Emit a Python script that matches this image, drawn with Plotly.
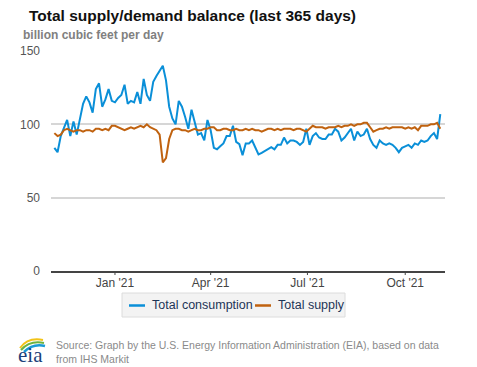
import pandas as pd
import plotly.graph_objects as go

start_date = "2020-11-05"
consumption = [84, 81, 92, 97, 103, 92, 102, 93, 103, 114,
               119, 115, 108, 124, 128, 112, 117, 124, 116, 115,
               118, 120, 127, 114, 116, 115, 122, 114, 131, 120,
               116, 129, 133, 137, 140, 130, 112, 104, 100, 116,
               112, 105, 97, 110, 102, 93, 94, 89, 103, 96,
               84, 83, 85, 87, 92, 92, 99, 88, 86.5, 79,
               87, 87, 89, 84, 79.5, 80.5, 82, 83, 84.5, 83,
               86, 86, 91, 87, 89, 89, 88, 86, 88, 97,
               86, 92, 94, 91, 90, 90, 93, 93, 97, 95,
               89, 91, 94, 97, 89, 95, 92, 93, 97, 90,
               86, 84, 89, 87, 86, 87, 86, 84, 81, 84,
               85, 86, 84, 87, 86, 89, 88, 89, 92, 94,
               90, 107]
supply = [94, 92, 93, 96, 97, 96, 95, 96, 96, 95,
          96, 96, 95, 97, 97, 96, 97, 96, 99, 99,
          98, 97, 96, 97, 98, 97, 98, 99, 98, 100,
          98, 97, 96, 93, 74, 77, 90, 96, 97, 97,
          96, 96, 95, 96, 97, 96, 96, 97, 97, 98,
          98, 96, 96, 97, 97, 96, 96, 97, 96, 96,
          97, 96, 97, 96, 96, 95, 96, 97, 97, 96,
          97, 96, 97, 97, 97, 96, 97, 97, 96, 95,
          97, 99, 98, 98, 98, 97, 98, 98, 98, 99,
          98, 99, 99, 100, 99, 100, 100, 101, 101, 98,
          95, 96, 97, 97, 98, 97, 98, 98, 98, 98,
          97, 98, 97, 98, 96, 99, 99, 99, 100, 100,
          101, 97]
series_names = ["Total consumption", "Total supply"]
series_colors = ["#0a8fd8", "#c0620f"]
tick_dates = ["2021-01-01", "2021-04-01", "2021-07-01", "2021-10-01"]
tick_labels = ["Jan '21", "Apr '21", "Jul '21", "Oct '21"]
y_ticks = [0, 50, 100, 150]

dates = pd.date_range(start_date, periods=len(consumption), freq="3D")

# ---- layout geometry (page pixels; the page body has an 8px margin) ----
OFF = 8
W, H = 477 - OFF, 367 - OFF
L, R, T, B = 51, 445, 51, 271          # plot area in page pixels
def px(x):
    return (x - L) / (R - L)
def py(y):
    return (B - y) / (B - T)

FONT = "Liberation Sans, Arial, sans-serif"

fig = go.Figure()
for name, vals, col in zip(series_names, [consumption, supply], series_colors):
    fig.add_trace(go.Scatter(x=dates, y=vals, mode="lines", name=name,
                             line=dict(color=col, width=2), showlegend=False))

fig.update_layout(
    width=W, height=H,
    margin=dict(l=L - OFF, r=W - (R - OFF), t=T - OFF, b=H - (B - OFF), pad=0),
    paper_bgcolor="white", plot_bgcolor="white",
    font=dict(family=FONT, size=12, color="#555"),
    xaxis=dict(range=["2020-11-01 20:00", "2021-11-07 10:00"],
               tickvals=tick_dates, ticktext=tick_labels,
               ticks="", showgrid=False, showline=True, linecolor="#444",
               linewidth=1.5, zeroline=False,
               tickfont=dict(size=12, color="#444")),
    yaxis=dict(range=[0, 150], tickvals=y_ticks, showgrid=True,
               gridcolor="#d6d6d6", gridwidth=1.5, zeroline=False,
               showline=False, ticks="", ticklabelstandoff=10,
               tickfont=dict(size=12, color="#555")),
)

ann = []
ann.append(dict(text="<b>Total supply/demand balance (last 365 days)</b>",
                x=px(27), y=py(16), xref="paper", yref="paper",
                xanchor="left", yanchor="middle", showarrow=False,
                font=dict(size=15.5, color="#111", family=FONT)))
ann.append(dict(text="<b>billion cubic feet per day</b>",
                x=px(21), y=py(35), xref="paper", yref="paper",
                xanchor="left", yanchor="middle", showarrow=False,
                font=dict(size=12, color="#808080", family=FONT)))
ann.append(dict(text="Source: Graph by the U.S. Energy Information Administration (EIA), based on data<br>from IHS Markit",
                x=px(54), y=py(337), xref="paper", yref="paper",
                xanchor="left", yanchor="top", align="left", showarrow=False,
                font=dict(size=10.5, color="#8a8a8a", family=FONT)))

shapes = []
# x tick marks below the axis line
for d in tick_dates:
    shapes.append(dict(type="line", xref="x", yref="paper", x0=d, x1=d,
                       y0=py(271), y1=py(275), line=dict(color="#444", width=1)))
# legend box
shapes.append(dict(type="rect", xref="paper", yref="paper",
                   x0=px(122), x1=px(345), y0=py(293), y1=py(317),
                   fillcolor="#f3f3f3", line=dict(color="#dcdcdc", width=1),
                   layer="below"))
legend_items = [(129, 145, 150), (255, 271, 276)]
for (lx0, lx1, tx), name, col in zip(legend_items, series_names, series_colors):
    shapes.append(dict(type="line", xref="paper", yref="paper",
                       x0=px(lx0), x1=px(lx1), y0=py(305.5), y1=py(305.5),
                       line=dict(color=col, width=2.5)))
    ann.append(dict(text=name, x=px(tx), y=py(305), xref="paper", yref="paper",
                    xanchor="left", yanchor="middle", showarrow=False,
                    font=dict(size=12.5, color="#1d3557", family=FONT)))

# eia logo
def qpath(p0, c, p1):
    return "M {},{} Q {},{} {},{}".format(px(p0[0]), py(p0[1]), px(c[0]), py(c[1]), px(p1[0]), py(p1[1]))
shapes.append(dict(type="path", xref="paper", yref="paper",
                   path=qpath((20, 348), (28, 337), (43, 340)),
                   line=dict(color="#f2c318", width=2)))
shapes.append(dict(type="path", xref="paper", yref="paper",
                   path=qpath((21, 350), (30, 340), (44, 343)),
                   line=dict(color="#6cb33f", width=2)))
shapes.append(dict(type="path", xref="paper", yref="paper",
                   path=qpath((24, 352), (33, 343), (45, 346)),
                   line=dict(color="#1a9bd7", width=2.5)))
ann.append(dict(text="eia", x=px(30), y=py(355), xref="paper", yref="paper",
                xanchor="center", yanchor="middle", showarrow=False,
                font=dict(size=21, color="#1b3f7a", family="Liberation Serif, DejaVu Serif, serif")))

fig.update_layout(annotations=ann, shapes=shapes)
fig.write_html("out.html")
